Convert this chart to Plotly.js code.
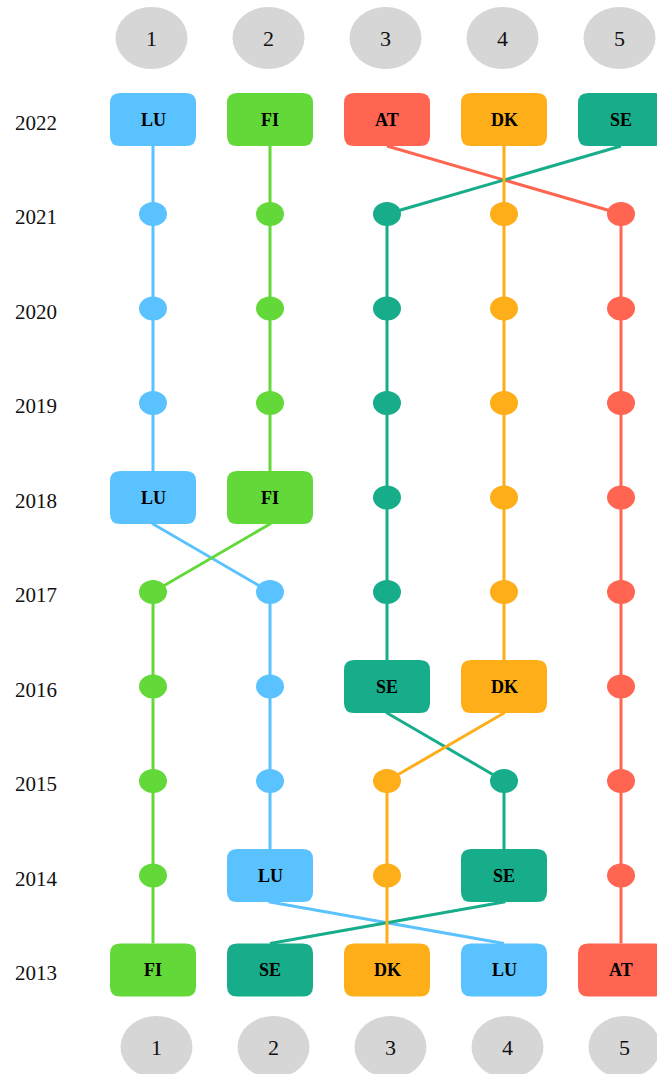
<!DOCTYPE html>
<html>
<head>
<meta charset="utf-8">
<script src="https://cdn.plot.ly/plotly-3.0.1.min.js"></script>
<style>html,body{margin:0;padding:0;background:#fff;}#chart{width:657px;height:1074px;}</style>
</head>
<body>
<div id="chart"></div>
<script>
// ---------- data ----------
const years = [2013, 2014, 2015, 2016, 2017, 2018, 2019, 2020, 2021, 2022];
const rankLabels = [1, 2, 3, 4, 5];
// drawing order (bottom to top)
const countries = ['LU', 'AT', 'SE', 'FI', 'DK'];
const rankLU = [4, 2, 2, 2, 2, 1, 1, 1, 1, 1];
const rankAT = [5, 5, 5, 5, 5, 5, 5, 5, 5, 3];
const rankSE = [2, 4, 4, 3, 3, 3, 3, 3, 3, 5];
const rankFI = [1, 1, 1, 1, 1, 2, 2, 2, 2, 2];
const rankDK = [3, 3, 3, 4, 4, 4, 4, 4, 4, 4];
const colorLU = '#5AC2FF';
const colorAT = '#FF6550';
const colorSE = '#17AD8B';
const colorFI = '#62D938';
const colorDK = '#FDAE19';

const ranks = {LU: rankLU, AT: rankAT, SE: rankSE, FI: rankFI, DK: rankDK};
const colors = {LU: colorLU, AT: colorAT, SE: colorSE, FI: colorFI, DK: colorDK};

// ---------- layout geometry ----------
const W = 657, H = 1074;
const xRange = [-0.3077, 5.3077];
const yRange = [2011.8995, 2023.2646];
const pxPerYear = H / (yRange[1] - yRange[0]);
const boxW = 86, boxH = 53, boxR = 10;
const off = (boxH / 2) / pxPerYear;
const serif = "'Liberation Serif', 'Times New Roman', serif";

function isBox(r, i) {
  return i === 0 || i === r.length - 1 || r[i] !== r[i - 1];
}

const traces = [];
const shapes = [];
const annotations = [];

// lines
countries.forEach(c => {
  const r = ranks[c];
  const xs = [], ys = [];
  for (let i = years.length - 1; i >= 0; i--) {
    if (isBox(r, i)) {
      if (i !== years.length - 1) { xs.push(r[i]); ys.push(years[i] + off); }
      if (i !== 0) { xs.push(r[i]); ys.push(years[i] - off); }
    } else {
      xs.push(r[i]); ys.push(years[i]);
    }
  }
  traces.push({
    type: 'scatter', mode: 'lines', x: xs, y: ys,
    line: {color: colors[c], width: 3}, hoverinfo: 'skip', showlegend: false
  });
});

// year labels
years.forEach(yr => {
  annotations.push({
    xref: 'x', yref: 'y', x: 0, y: yr, yshift: -3, text: String(yr),
    xanchor: 'center', yanchor: 'middle', showarrow: false,
    font: {family: serif, size: 21, color: '#111'}
  });
});

// markers and boxes
const hw = boxW / 2, hh = boxH / 2;
const boxPath = `M ${-hw + boxR} ${-hh} L ${hw - boxR} ${-hh} Q ${hw} ${-hh} ${hw} ${-hh + boxR} ` +
  `L ${hw} ${hh - boxR} Q ${hw} ${hh} ${hw - boxR} ${hh} L ${-hw + boxR} ${hh} ` +
  `Q ${-hw} ${hh} ${-hw} ${hh - boxR} L ${-hw} ${-hh + boxR} Q ${-hw} ${-hh} ${-hw + boxR} ${-hh} Z`;

countries.forEach(c => {
  const r = ranks[c];
  years.forEach((yr, i) => {
    if (isBox(r, i)) {
      shapes.push({
        type: 'path', xref: 'x', yref: 'y', xsizemode: 'pixel', ysizemode: 'pixel',
        xanchor: r[i], yanchor: yr, path: boxPath,
        fillcolor: colors[c], line: {width: 0}, layer: 'above'
      });
      annotations.push({
        xref: 'x', yref: 'y', x: r[i], y: yr, text: '<b>' + c + '</b>',
        xanchor: 'center', yanchor: 'middle',
        showarrow: false, font: {family: serif, size: 18, color: '#000'}
      });
    } else {
      shapes.push({
        type: 'circle', xref: 'x', yref: 'y', xsizemode: 'pixel', ysizemode: 'pixel',
        xanchor: r[i], yanchor: yr, x0: -14, x1: 14, y0: -12, y1: 12,
        fillcolor: colors[c], line: {width: 0}, layer: 'above'
      });
    }
  });
});

// rank header / footer circles
const topY = 1 - 38 / H, botY = 1 - 1047 / H;
rankLabels.forEach(rk => {
  [[topY, -1.5], [botY, 3.5]].forEach(([py, dx]) => {
    shapes.push({
      type: 'circle', xref: 'x', yref: 'paper', xsizemode: 'pixel', ysizemode: 'pixel',
      xanchor: rk, yanchor: py, x0: -36 + dx, x1: 36 + dx, y0: -31, y1: 31,
      fillcolor: '#D6D6D6', line: {width: 0}, layer: 'above'
    });
    annotations.push({
      xref: 'x', yref: 'paper', x: rk, y: py, xshift: dx, text: String(rk),
      xanchor: 'center', yanchor: 'middle',
      showarrow: false, font: {family: serif, size: 22, color: '#111'}
    });
  });
});

const layout = {
  width: W, height: H,
  margin: {l: 0, r: 0, t: 0, b: 0},
  paper_bgcolor: '#fff', plot_bgcolor: '#fff',
  xaxis: {range: xRange, visible: false, fixedrange: true},
  yaxis: {range: yRange, visible: false, fixedrange: true},
  showlegend: false,
  shapes: shapes,
  annotations: annotations
};

Plotly.newPlot('chart', traces, layout, {displayModeBar: false, staticPlot: true});
</script>
</body>
</html>
